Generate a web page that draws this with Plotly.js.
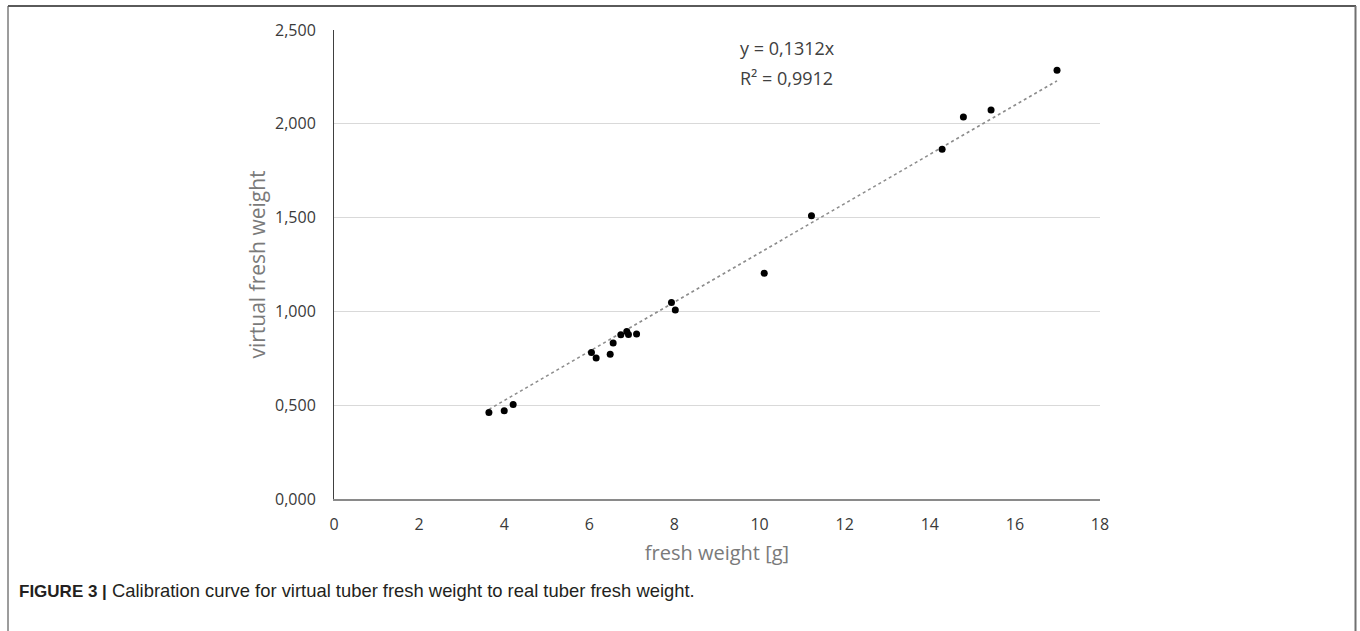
<!DOCTYPE html>
<html>
<head>
<meta charset="utf-8">
<script src="https://cdn.plot.ly/plotly-3.0.1.min.js"></script>
<style>
html,body{margin:0;padding:0;background:#fff;}
#chart{width:1360px;height:631px;}
</style>
</head>
<body>
<div id="chart"></div>
<script>
// Data
var freshWeight = [3.64, 4.00, 4.21, 6.05, 6.16, 6.49, 6.56, 6.74, 6.88, 6.92, 7.11, 7.93, 8.02, 10.11, 11.22, 14.29, 14.79, 15.44, 16.99];
var virtualWeight = [0.461, 0.470, 0.504, 0.781, 0.752, 0.772, 0.832, 0.875, 0.893, 0.877, 0.879, 1.048, 1.008, 1.204, 1.510, 1.864, 2.036, 2.073, 2.285];
var slope = 0.1312;
var equationLine1 = "y = 0,1312x";
var equationLine2 = "R² = 0,9912";
var xTicks = [0, 2, 4, 6, 8, 10, 12, 14, 16, 18];
var yTicks = [0, 0.5, 1.0, 1.5, 2.0, 2.5];
var yTickLabels = ["0,000", "0,500", "1,000", "1,500", "2,000", "2,500"];
var xTitle = "fresh weight [g]";
var yTitle = "virtual fresh weight";
var captionBold = "FIGURE 3 |";
var captionText = " Calibration curve for virtual tuber fresh weight to real tuber fresh weight.";

// Trend line through origin spanning the data range
var xMin = Math.min.apply(null, freshWeight);
var xMax = Math.max.apply(null, freshWeight);
var trendX = [xMin, xMax];
var trendY = trendX.map(function (v) { return slope * v; });

var W = 1360, H = 631;
var mL = 334, mR = 260, mT = 30, mB = 132;
var pw = W - mL - mR, ph = H - mT - mB;
function px(xPix) { return (xPix - mL) / pw; }
function py(yPix) { return (H - mB - yPix) / ph; }

var traces = [
  {
    x: trendX, y: trendY, type: 'scatter', mode: 'lines',
    line: {color: '#8c8c8c', width: 1.6, dash: 'dot'},
    hoverinfo: 'skip', showlegend: false
  },
  {
    x: freshWeight, y: virtualWeight, type: 'scatter', mode: 'markers',
    marker: {color: '#000000', size: 7},
    showlegend: false
  }
];

var layout = {
  width: W, height: H,
  margin: {l: mL, r: mR, t: mT, b: mB, pad: 0},
  paper_bgcolor: '#ffffff', plot_bgcolor: '#ffffff',
  font: {family: 'Open Sans, sans-serif', size: 16, color: '#404040'},
  showlegend: false,
  xaxis: {
    range: [0, 18], tickvals: xTicks, ticktext: xTicks.map(String),
    showgrid: false, zeroline: false,
    showline: true, linecolor: '#8a8a8a', linewidth: 2,
    ticks: '', ticklabelstandoff: 10,
    tickfont: {family: 'Open Sans, sans-serif', size: 16, color: '#3a3a3a'},
    title: {text: xTitle, font: {family: 'Open Sans, sans-serif', size: 20, color: '#7a7a7a'}, standoff: 12}
  },
  yaxis: {
    range: [0, 2.5], tickvals: yTicks, ticktext: yTickLabels,
    showgrid: true, gridcolor: '#d9d9d9', gridwidth: 1, zeroline: false,
    showline: true, linecolor: '#404040', linewidth: 1,
    ticks: '', ticklabelstandoff: 14,
    tickfont: {family: 'Open Sans, sans-serif', size: 16, color: '#3a3a3a'},
    title: {text: yTitle, font: {family: 'Open Sans, sans-serif', size: 21, color: '#7a7a7a'}, standoff: 3}
  },
  annotations: [
    {
      xref: 'paper', yref: 'paper', x: px(738), y: py(48), xanchor: 'left', yanchor: 'middle',
      text: equationLine1, showarrow: false, align: 'left',
      font: {family: 'Open Sans, sans-serif', size: 18, color: '#404040'}
    },
    {
      xref: 'paper', yref: 'paper', x: px(738), y: py(78), xanchor: 'left', yanchor: 'middle',
      text: equationLine2, showarrow: false, align: 'left',
      font: {family: 'Open Sans, sans-serif', size: 18, color: '#404040'}
    },
    {
      xref: 'paper', yref: 'paper', x: px(17), y: py(590), xanchor: 'left', yanchor: 'middle',
      text: '<b>' + captionBold + '</b><span style="font-size:18.4px">' + captionText + '</span>', showarrow: false, align: 'left',
      font: {family: 'Liberation Sans, Arial, sans-serif', size: 17, color: '#231f20'}
    }
  ],
  shapes: [
    {type: 'line', xref: 'paper', yref: 'paper', x0: px(8), x1: px(8), y0: py(6), y1: py(640), line: {color: '#3a3a3a', width: 1}},
    {type: 'line', xref: 'paper', yref: 'paper', x0: px(8), x1: px(1356), y0: py(6), y1: py(6), line: {color: '#5a5a5a', width: 2}},
    {type: 'line', xref: 'paper', yref: 'paper', x0: px(1355.5), x1: px(1355.5), y0: py(6), y1: py(640), line: {color: '#707070', width: 2}}
  ]
};

Plotly.newPlot('chart', traces, layout, {displayModeBar: false, staticPlot: true});
</script>
</body>
</html>
